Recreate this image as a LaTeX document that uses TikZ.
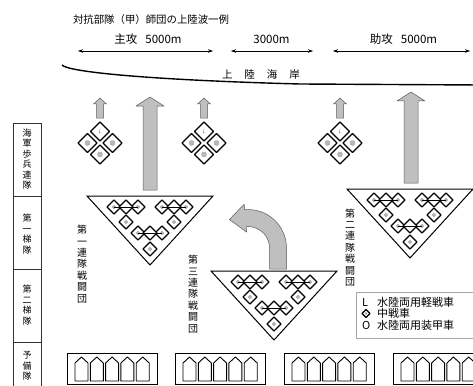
\documentclass[tikz,border=0pt]{standalone}
\usepackage{fontspec}
\setmainfont{Noto Sans CJK JP}
\usetikzlibrary{arrows.meta,calc}
\tikzset{
  tank/.style={draw=black,line width=1.1pt,fill=white,line join=round},
  thintank/.style={draw=black,line width=0.7pt,fill=white,line join=round},
  dot/.style={fill=gray!55,draw=gray!70,line width=0.3pt},
  lmark/.style={font=\fontsize{5}{5}\selectfont,text=gray!80!black,inner sep=0pt},
  garrow/.style={fill=gray!50,draw=gray!70!black,line width=0.5pt,line join=round},
  dim/.style={{Stealth[length=5pt,width=3.5pt]}-{Stealth[length=5pt,width=3.5pt]},line width=0.5pt},
  txt/.style={inner sep=0pt},
  vlab/.style={inner sep=0pt,align=center,font=\fontsize{10}{11.4}\selectfont},
  clab/.style={inner sep=0pt,align=center,font=\fontsize{9}{10.5}\selectfont},
  frame/.style={draw=black!80,line width=0.9pt},
  pics/odia/.style={code={
    \draw[tank] (0,-#1)--(#1,0)--(0,#1)--(-#1,0)--cycle;
    \draw[dot] (0,0) circle (0.27*#1);}},
  pics/ldia/.style={code={
    \draw[tank] (0,-#1)--(#1,0)--(0,#1)--(-#1,0)--cycle;
    \node[lmark] (-l) at (0,0) {L};}},
  pics/cluster/.style={code={
    \pic (-n) at (0,-11.5) {ldia=9.5};
    \pic (-w) at (-12.5,0) {odia=9.5};
    \pic (-e) at (12.5,0) {odia=9.5};
    \pic (-s) at (0,11.5) {odia=9.5};}},
  pics/trio/.style={code={
    \pic at (-12,0) {odia=7};
    \pic at (12,0) {odia=7};
    \draw[tank] (0,-7)--(7,0)--(0,7)--(-7,0)--cycle;
    \draw[line width=1pt] (-12,0)--(12,0);}},
  pics/wedge/.style={code={
    \draw[line width=1pt,line join=miter] (-63,0)--(63,0)--(0,69)--cycle;
    \pic at (-24,11) {trio};
    \pic at (24,11) {trio};
    \pic at (-24,26) {odia=7};
    \pic at (24,26) {odia=7};
    \pic at (0,37) {trio};
    \pic at (0,53) {odia=7};}},
}
\begin{document}
\begin{tikzpicture}[x=1pt,y=-1pt]
\useasboundingbox (0,0) rectangle (473,385);
\clip (0,0) rectangle (473,385);

% caption and widths
\node[txt,font=\fontsize{10.4}{10.4}\selectfont] (cap) at (151,20) {対抗部隊（甲）師団の上陸波一例};
\node[txt,font=\fontsize{11.5}{11.5}\selectfont] (lmain) at (148,39) {主攻\hspace{8pt}5000m};
\node[txt,font=\fontsize{11.5}{11.5}\selectfont] (lgap) at (271.5,39) {3000m};
\node[txt,font=\fontsize{11.5}{11.5}\selectfont] (lsub) at (403.5,39) {助攻\hspace{8pt}5000m};
\coordinate (a1) at (78,51);  \coordinate (a2) at (213,51);
\coordinate (b1) at (231,51); \coordinate (b2) at (313,51);
\coordinate (c1) at (333,51); \coordinate (c2) at (470,51);
\draw[dim] (a1) -- (a2);
\draw[dim] (b1) -- (b2);
\draw[dim] (c1) -- (c2);

% coast
\draw[line width=1.4pt] (62,65) .. controls (68,72) and (150,80) .. (300,84) -- (480,85);
\node[txt,font=\fontsize{10.5}{10.5}\selectfont] (coast) at (261,75) {上\hspace{12pt}陸\hspace{12pt}海\hspace{12pt}岸};

% left column
\draw[frame] (13,123) rectangle (41,395);
\draw[frame] (13,196) -- (41,196);
\draw[frame] (13,269) -- (41,269);
\draw[frame] (13,342) -- (41,342);
\node[clab] (k1) at (27,159) {海\\軍\\歩\\兵\\連\\隊};
\node[clab] (k2) at (27,234) {第\\一\\梯\\隊};
\node[clab] (k3) at (27,305) {第\\二\\梯\\隊};
\node[clab] (k4) at (27,366) {予\\備\\隊};

% big arrows
\draw[garrow] (143,190)--(143,106)--(136,106)--(150,97)--(164,106)--(157,106)--(157,190)--cycle;
\draw[garrow] (404,183)--(404,101)--(397,101)--(411,92)--(425,101)--(418,101)--(418,183)--cycle;
% small arrows
\foreach \cx in {100,204,340}{
  \draw[garrow] (\cx-3.5,118)--(\cx-3.5,104)--(\cx-6.5,104)--(\cx,98)--(\cx+6.5,104)--(\cx+3.5,104)--(\cx+3.5,118)--cycle;
}

% clusters
\pic (g1) at (100,143) {cluster};
\pic (g2) at (204,143) {cluster};
\pic (g3) at (340,143) {cluster};

% wedges
\pic (w1) at (150,196) {wedge};
\pic (w2) at (274,271) {wedge};
\pic (w3) at (410,189) {wedge};

% curved arrow
\coordinate (cc) at (248,248);
\draw[garrow] (269.5,269) -- (286.5,269) -- (286.5,248)
  arc[start angle=0,end angle=-95,radius=38.5]
  -- ($(cc)+(-95:44)$) -- ($(cc)+(-95:30)+(175:16)$) -- ($(cc)+(-95:16)$)
  -- ($(cc)+(-95:21.5)$) arc[start angle=-95,end angle=0,radius=21.5] -- cycle;

% vertical labels
\node[vlab] (r1) at (82,264) {第\\一\\連\\隊\\戦\\闘\\団};
\node[vlab] (r3) at (193,294) {第\\三\\連\\隊\\戦\\闘\\団};
\node[vlab] (r2) at (350,247.5) {第\\二\\連\\隊\\戦\\闘\\団};

% legend
\draw[draw=gray!70,line width=0.6pt] (356,292) rectangle (480,338);
\node[txt,font=\fontsize{11}{11}\selectfont,anchor=west] (lgL) at (362,302) {L};
\node[txt,font=\fontsize{11}{11}\selectfont,anchor=west] (lgLt) at (377,302) {水陸両用軽戦車};
\pic (lgD) at (366,313.5) {odia=4};
\node[txt,font=\fontsize{11}{11}\selectfont,anchor=west] (lgDt) at (377,313.5) {中戦車};
\node[txt,font=\fontsize{11}{11}\selectfont,anchor=west] (lgO) at (362,325) {O};
\node[txt,font=\fontsize{11}{11}\selectfont,anchor=west] (lgOt) at (377,325) {水陸両用装甲車};

% reserve boxes
\foreach \bx in {67,175,284,393}{
  \draw[line width=0.8pt] (\bx,353) rectangle (\bx+90,384);
  \foreach \i in {0,...,4}{
    \draw[line width=0.9pt,line join=round] (\bx+8+15.3*\i,381)--(\bx+8+15.3*\i,363)--(\bx+14.5+15.3*\i,357)--(\bx+21+15.3*\i,363)--(\bx+21+15.3*\i,381)--cycle;
  }
}
\end{tikzpicture}
\end{document}
